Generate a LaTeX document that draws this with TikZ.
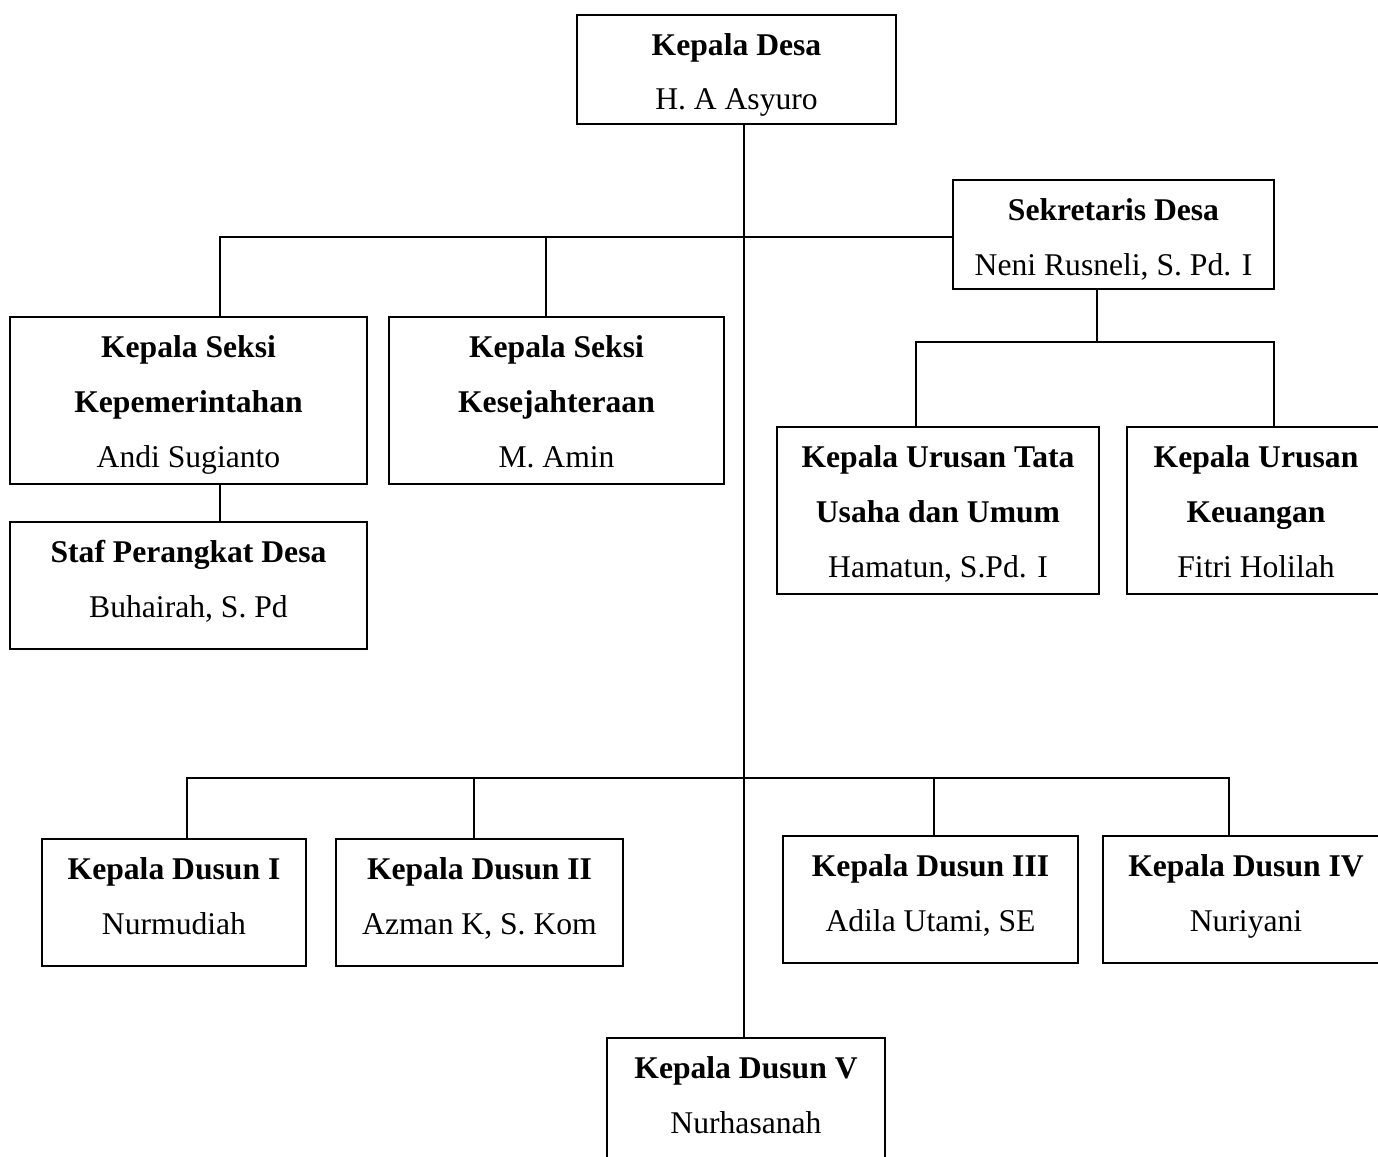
\documentclass[tikz,border=0pt]{standalone}
\usepackage{fontspec}
\setmainfont{Liberation Serif}
\usepackage{tikz}
\usetikzlibrary{
    positioning
}

\begin{document}
\begin{tikzpicture}
    [x=0.02cm,y=-0.02cm,line cap=rect,
    % Styles
    unit box/.style={draw,line width=0.9pt,rectangle,inner sep=0pt,align=center,
        font=\fontsize{18}{31.3}\selectfont},
    head unit/.style={unit box,minimum height=2.18cm,text height=50pt,text depth=3.9pt},
    small unit/.style={unit box,minimum height=2.54cm,text height=43.6pt,text depth=7.4pt},
    big unit/.style={unit box,minimum height=3.34cm,text height=80pt,text depth=3.4pt},
    link/.style={line width=0.9pt}]

    \useasboundingbox (0,0) rectangle (1378,1156);

    % The boxes
    \node[head unit,minimum width=6.38cm] (desa) at (736.5,69.5)
        {\textbf{Kepala Desa}\\H. A Asyuro};
    \node[head unit,minimum width=6.42cm] (sekdes) at (1113.5,234.5)
        {\textbf{Sekretaris Desa}\\Neni Rusneli, S. Pd. I};

    \node[big unit,minimum width=7.14cm] (pem) at (188.5,400.5)
        {\textbf{Kepala Seksi}\\\textbf{Kepemerintahan}\\Andi Sugianto};
    \node[big unit,minimum width=6.70cm] (kes) at (556.5,400.5)
        {\textbf{Kepala Seksi}\\\textbf{Kesejahteraan}\\M. Amin};
    \node[small unit,minimum width=7.14cm] (staf) at (188.5,585.5)
        {\textbf{Staf Perangkat Desa}\\Buhairah, S. Pd};

    \node[big unit,minimum width=6.44cm] (tu) at (938,510.5)
        {\textbf{Kepala Urusan Tata}\\\textbf{Usaha dan Umum}\\Hamatun, S.Pd. I};
    \node[big unit,minimum width=5.16cm] (keu) at (1256,510.5)
        {\textbf{Kepala Urusan}\\\textbf{Keuangan}\\Fitri Holilah};

    \node[small unit,minimum width=5.28cm] (dusunI) at (174,902.5)
        {\textbf{Kepala Dusun I}\\Nurmudiah};
    \node[small unit,minimum width=5.74cm] (dusunII) at (479.5,902.5)
        {\textbf{Kepala Dusun II}\\Azman K, S. Kom};
    \node[small unit,minimum width=5.90cm] (dusunIII) at (930.5,899.5)
        {\textbf{Kepala Dusun III}\\Adila Utami, SE};
    \node[small unit,minimum width=5.72cm] (dusunIV) at (1246,899.5)
        {\textbf{Kepala Dusun IV}\\Nuriyani};
    \node[small unit,minimum width=5.56cm] (dusunV) at (746,1101.5)
        {\textbf{Kepala Dusun V}\\Nurhasanah};

    % Junctions of the lines
    \coordinate (trunk) at (744,237);
    \coordinate (kp) at (220,0);
    \coordinate (kk) at (546,0);
    \coordinate (sek bus) at (1097,342);
    \coordinate (ktu) at (916,0);
    \coordinate (kkeu) at (1274,0);
    \coordinate (dusun bus) at (744,778);
    \coordinate (d1) at (187,0);
    \coordinate (d2) at (474,0);
    \coordinate (d3) at (934,0);
    \coordinate (d4) at (1229,0);

    % The lines
    \draw[link] (trunk |- desa.south) -- (trunk |- dusunV.north);

    \draw[link] (sekdes.west |- trunk) -| (kp |- pem.north);
    \draw[link] (kk |- trunk) -- (kk |- kes.north);
    \draw[link] (kp |- pem.south) -- (kp |- staf.north);

    \draw[link] (sek bus |- sekdes.south) -- (sek bus);
    \draw[link] (ktu |- tu.north) |- (kkeu |- sek bus) -- (kkeu |- keu.north);

    \draw[link] (d1 |- dusunI.north) |- (d4 |- dusun bus) -- (d4 |- dusunIV.north);
    \draw[link] (d2 |- dusun bus) -- (d2 |- dusunII.north);
    \draw[link] (d3 |- dusun bus) -- (d3 |- dusunIII.north);
\end{tikzpicture}
\end{document}
